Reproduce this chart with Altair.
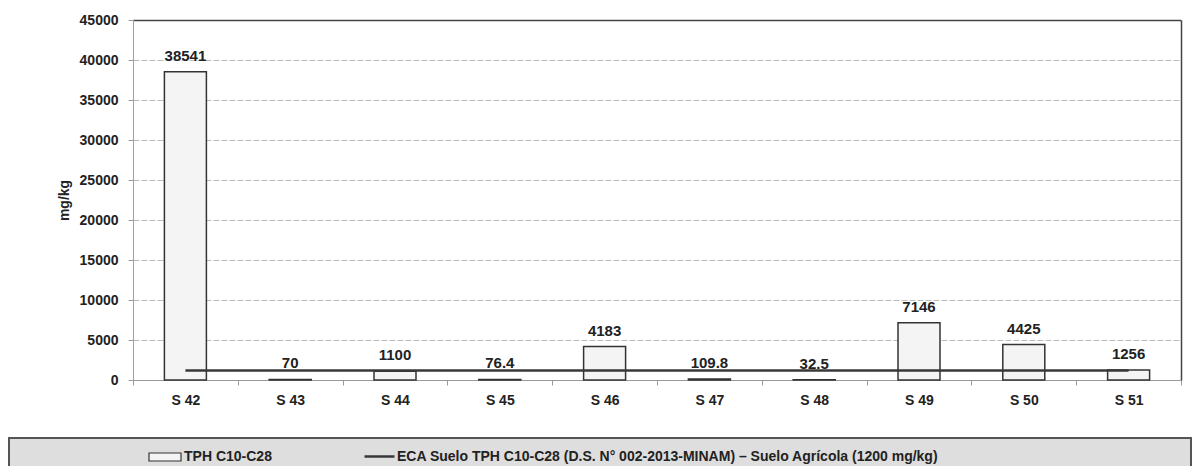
import altair as alt
import pandas as pd

samples = ["S 42", "S 43", "S 44", "S 45", "S 46", "S 47", "S 48", "S 49", "S 50", "S 51"]
tph = [38541, 70, 1100, 76.4, 4183, 109.8, 32.5, 7146, 4425, 1256]
eca_limit = [1200, 1200, 1200, 1200, 1200, 1200, 1200, 1200, 1200, 1200]
y_ticks = [0, 5000, 10000, 15000, 20000, 25000, 30000, 35000, 40000, 45000]
bar_series = "TPH C10-C28"
line_series = "ECA Suelo TPH C10-C28 (D.S. N° 002-2013-MINAM) – Suelo Agrícola (1200 mg/kg)"

df = pd.DataFrame({
    "muestra": samples,
    "tph": tph,
    "eca": eca_limit,
    "label": [f"{v:g}" for v in tph],
    "s_bar": bar_series,
    "s_line": line_series,
})

FONT = "Liberation Sans, Arial, sans-serif"
TXT = "#222222"

y_scale = alt.Scale(domain=[0, 45000], nice=False)
x_scale = alt.Scale(paddingInner=0, paddingOuter=0)

x_axis = alt.Axis(title=None, labelAngle=0, tickBand="extent", tickSize=5,
                  tickColor="#9a9a9a", domainColor="#9a9a9a", labelPadding=8, grid=False)

legend_box = alt.Chart(alt.Data(values=[{}])).mark_rect(
    fill="#dedede", stroke="#555555", strokeWidth=2
).encode(
    x=alt.value(-124), x2=alt.value(1058), y=alt.value(418), y2=alt.value(470)
)

bars = alt.Chart(df).mark_bar(size=42, stroke="#333333", strokeWidth=1.5).encode(
    x=alt.X("muestra:N", sort=samples, scale=x_scale, axis=x_axis),
    y=alt.Y("tph:Q", scale=y_scale,
            axis=alt.Axis(values=y_ticks, format="d", title="mg/kg", tickSize=5, tickColor="#9a9a9a",
                          domainColor="#a0a0a0", labelPadding=10, titlePadding=8,
                          gridColor=alt.condition("datum.value == 45000", alt.value("#444444"), alt.value("#bdbdbd")),
                          gridWidth=alt.condition("datum.value == 45000", alt.value(1.5), alt.value(1)),
                          gridDash=alt.condition("datum.value == 45000", alt.value([]), alt.value([6, 2])))),
    fill=alt.Fill("s_bar:N", scale=alt.Scale(domain=[bar_series], range=["#f4f4f4"]),
                  legend=alt.Legend(title=None, orient="none", legendX=15, legendY=420, padding=0,
                                    symbolType="M-1,-0.25H1V0.25H-1Z", symbolSize=1024,
                                    symbolStrokeColor="#333333", symbolStrokeWidth=1.2,
                                    labelOffset=2)),
)

line = alt.Chart(df).mark_line(strokeWidth=2.5).encode(
    x=alt.X("muestra:N", sort=samples, scale=x_scale, axis=x_axis),
    y=alt.Y("eca:Q", scale=y_scale,
            axis=alt.Axis(orient="right", labels=False, ticks=False, grid=False, title=None,
                          domainColor="#444444", domainWidth=1.5)),
    stroke=alt.Stroke("s_line:N", scale=alt.Scale(domain=[line_series], range=["#383838"]),
                      legend=alt.Legend(title=None, orient="none", legendX=230, legendY=420, padding=0,
                                        symbolType="stroke", symbolSize=900, symbolStrokeWidth=2.5,
                                        labelOffset=1)),
)

text = alt.Chart(df).mark_text(dy=-16, font=FONT, fontSize=15, fontWeight="bold", color=TXT).encode(
    x=alt.X("muestra:N", sort=samples, scale=x_scale, axis=x_axis),
    y=alt.Y("tph:Q", scale=y_scale, axis=None),
    text="label:N",
)

chart = alt.layer(legend_box, bars, line, text).resolve_axis(y="independent").properties(
    width=1048, height=360,
    autosize=alt.AutoSizeParams(type="none"),
    padding={"left": 125, "top": 12, "right": 11, "bottom": 86},
).configure_view(stroke=None).configure_axis(
    labelFont=FONT, labelFontSize=14, labelFontWeight="bold", labelColor=TXT,
    titleFont=FONT, titleFontSize=14, titleFontWeight="bold", titleColor=TXT,
).configure_legend(
    labelFont=FONT, labelFontSize=14, labelFontWeight="bold", labelColor=TXT, labelLimit=800,
)

chart.save("out.html", embed_options={"renderer": "svg", "actions": False})
